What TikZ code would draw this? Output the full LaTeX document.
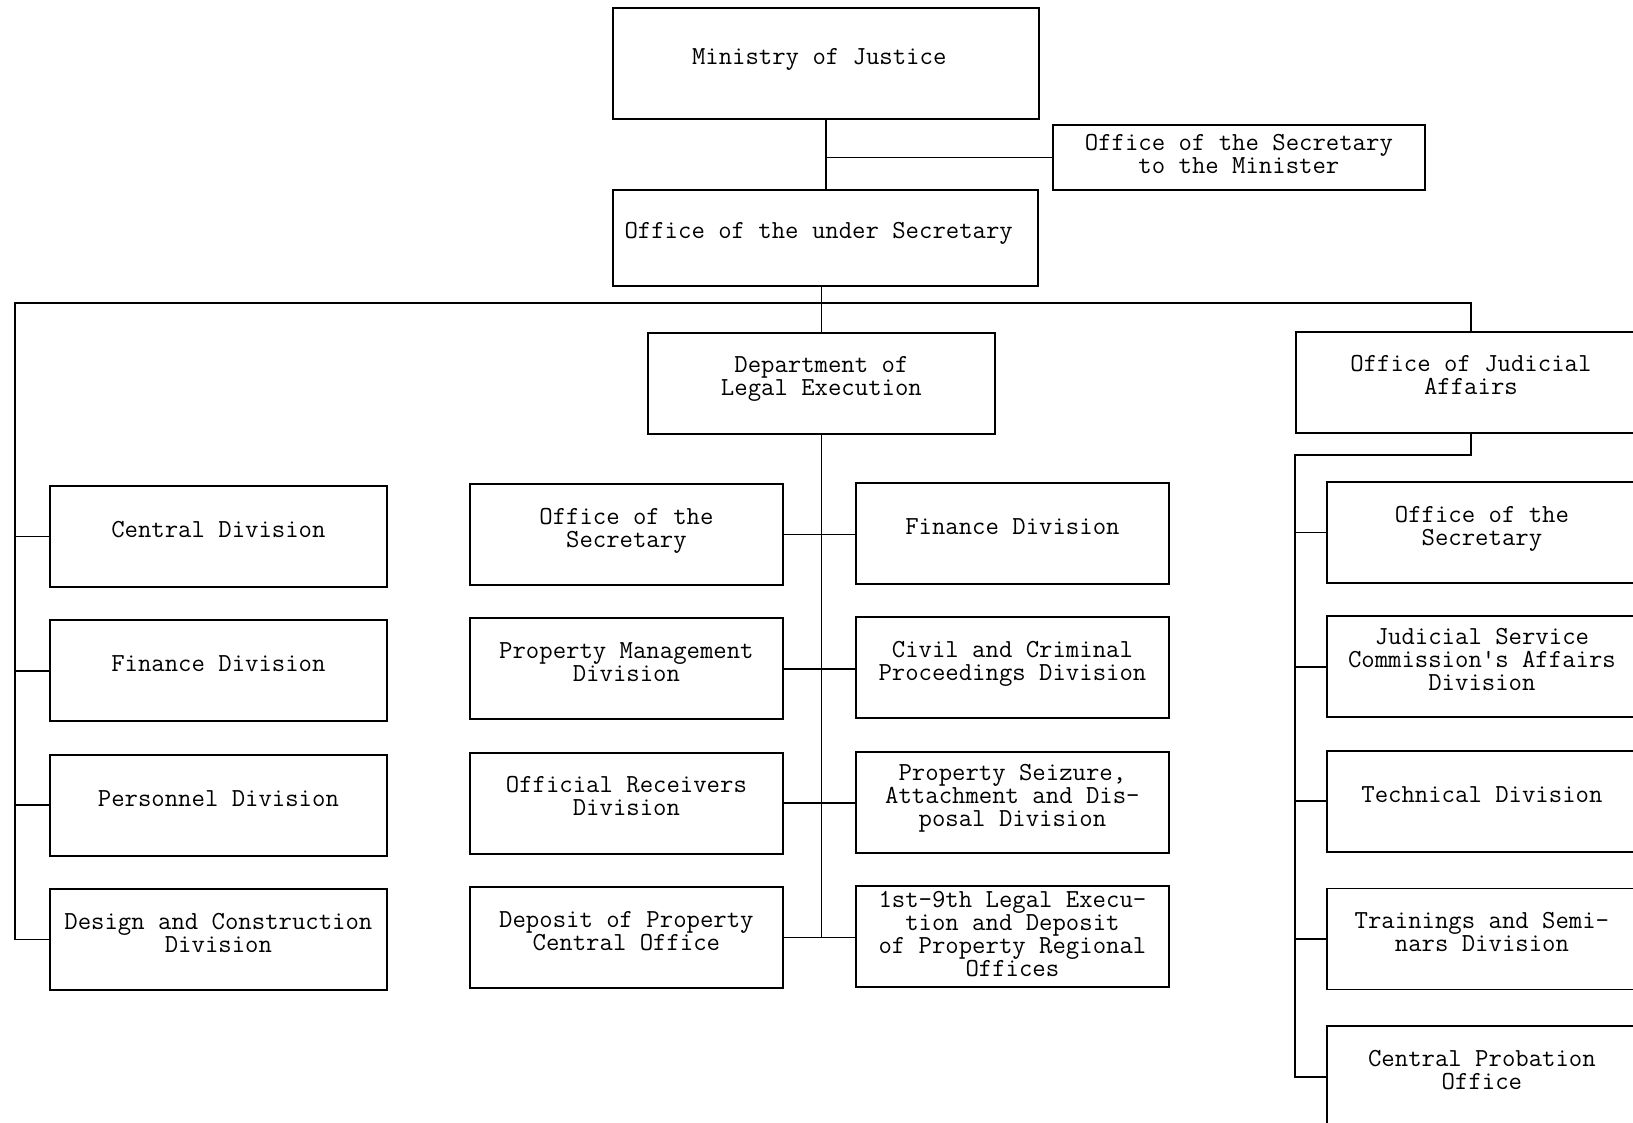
\documentclass[tikz,border=0pt]{standalone}
\usepackage{fontspec}
\usepackage{tikz}
\usetikzlibrary{positioning}

\begin{document}
\begin{tikzpicture}[
    x=0.5pt, y=-0.5pt,
    node distance=15.8pt,
    box/.style={
        draw,
        rectangle,
        line width=0.9pt,
        inner sep=2pt,
        minimum height=50.5pt,
        text depth=7pt,
        align=center,
        font=\ttfamily\fontsize{13}{11.5}\selectfont
    },
    leftbox/.style={box, minimum width=168.5pt},
    midbox/.style={box, minimum width=156.5pt},
    rightbox/.style={box, minimum width=155pt},
    link/.style={line width=0.85pt}
]

\useasboundingbox (0,0) rectangle (1633,1123);
\clip (0,0) rectangle (1633,1123);

\node[box, anchor=north west, minimum width=213pt, minimum height=55.5pt] (ministry) at (612,7) {
Ministry of Justice
};

\node[box, anchor=north west, minimum width=186pt, minimum height=32.5pt, text depth=3pt] (secmin) at (1052,124) {
Office of the Secretary\\to the Minister
};

\node[box, anchor=north west, minimum width=212.5pt, minimum height=48pt] (usec) at (612,189) {
Office of the under Secretary
};

\node[box, anchor=north west, minimum width=173.5pt] (dept) at (647,332) {
Department of\\Legal Execution
};

\node[box, anchor=north west, minimum width=175pt] (judaff) at (1295,331) {
Office of Judicial\\Affairs
};

\node[leftbox, anchor=north west] (central) at (49,485) {Central Division};
\node[leftbox, below=of central] (finance) {Finance Division};
\node[leftbox, below=of finance] (personnel) {Personnel Division};
\node[leftbox, below=of personnel] (design) {Design and Construction\\Division};

\node[midbox, anchor=north west] (osec) at (469,483) {Office of the\\Secretary};
\node[midbox, below=of osec] (propman) {Property Management\\Division};
\node[midbox, below=of propman] (receiver) {Official Receivers\\Division};
\node[midbox, below=of receiver] (deposit) {Deposit of Property\\Central Office};

\node[midbox, anchor=north west] (lefin) at (855,482) {Finance Division};
\node[midbox, below=of lefin] (civil) {Civil and Criminal\\Proceedings Division};
\node[midbox, below=of civil] (seizure) {Property Seizure,\\Attachment and Dis-\\posal Division};
\node[midbox, below=of seizure, text depth=3pt] (regional) {1st-9th Legal Execu-\\tion and Deposit\\of Property Regional\\Offices};

\node[rightbox, anchor=north west] (jsec) at (1326,481) {Office of the\\Secretary};
\node[rightbox, below=of jsec] (jsc) {Judicial Service\\Commission's Affairs\\Division};
\node[rightbox, below=of jsc] (technical) {Technical Division};
\node[rightbox, below=17.5pt of technical] (training) {Trainings and Semi-\\nars Division};
\node[rightbox, below=17.5pt of training] (probation) {Central Probation\\Office};

\coordinate (bus) at (15,303);
\coordinate (jbend) at (1295,455);

\draw[link] (ministry.south) -- (ministry.south |- usec.north);
\draw[link] (secmin.west) -- (secmin.west -| ministry.south);
\draw[link] (dept.north |- usec.south) -- (dept.north);
\draw[link] (judaff.north) |- (bus) |- (design.west);
\foreach \n in {central,finance,personnel}
    \draw[link] (\n.west) -- (\n.west -| bus);

\draw[link] (dept.south) -- (dept.south |- deposit.east);
\draw[link] (osec.east) -- (osec.east -| lefin.west);
\draw[link] (propman.east) -- (propman.east -| civil.west);
\draw[link] (receiver.east) -- (receiver.east -| seizure.west);
\draw[link] (deposit.east) -- (deposit.east -| regional.west);

\draw[link] (judaff.south) |- (jbend) |- (probation.west);
\foreach \n in {jsec,jsc,technical,training}
    \draw[link] (\n.west) -- (\n.west -| jbend);

\end{tikzpicture}
\end{document}
